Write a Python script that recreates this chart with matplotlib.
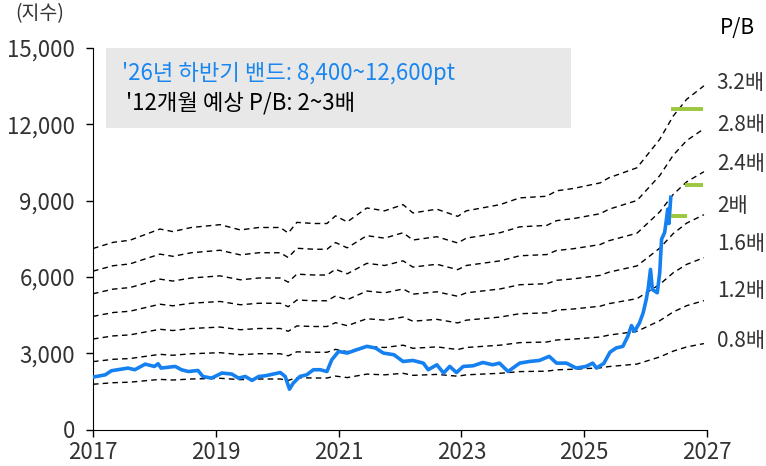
import matplotlib
matplotlib.use('Agg')
import matplotlib.pyplot as plt
import numpy as np

plt.rcParams['font.family'] = ['Noto Sans CJK KR', 'DejaVu Sans']

# KOSPI index
kospi_year = [2017.00, 2017.20, 2017.30, 2017.57, 2017.68, 2017.85, 2018.00, 2018.06, 2018.11, 2018.34,
              2018.44, 2018.55, 2018.71, 2018.79, 2018.93, 2019.10, 2019.26, 2019.37, 2019.48, 2019.59,
              2019.70, 2019.80, 2019.88, 2020.05, 2020.13, 2020.20, 2020.26, 2020.37, 2020.48, 2020.59,
              2020.70, 2020.81, 2020.89, 2021.00, 2021.14, 2021.30, 2021.46, 2021.60, 2021.73, 2021.90,
              2022.05, 2022.21, 2022.38, 2022.46, 2022.60, 2022.71, 2022.81, 2022.92, 2023.03, 2023.19,
              2023.35, 2023.51, 2023.62, 2023.76, 2023.95, 2024.11, 2024.27, 2024.43, 2024.55, 2024.71,
              2024.87, 2025.03, 2025.14, 2025.20, 2025.32, 2025.42, 2025.52, 2025.63, 2025.71, 2025.77,
              2025.82, 2025.90, 2025.96, 2026.01, 2026.04, 2026.08, 2026.11, 2026.19, 2026.23, 2026.26,
              2026.31, 2026.34, 2026.36, 2026.38, 2026.41]
kospi = [2060, 2150, 2310, 2415, 2350, 2570, 2480, 2585, 2415, 2480,
         2350, 2280, 2320, 2085, 2020, 2220, 2180, 2020, 2085, 1930,
         2085, 2110, 2150, 2240, 2085, 1585, 1820, 2085, 2150, 2350,
         2350, 2280, 2745, 3070, 3005, 3140, 3270, 3205, 3005, 2940,
         2675, 2715, 2610, 2350, 2545, 2220, 2480, 2240, 2480, 2505,
         2635, 2545, 2610, 2280, 2610, 2675, 2715, 2875, 2610, 2610,
         2415, 2480, 2610, 2415, 2600, 3040, 3205, 3270, 3665, 4085,
         3860, 4190, 4585, 5110, 5505, 6295, 5505, 5375, 6165, 7480,
         7745, 8270, 8665, 8100, 9130]

# Book value per share (12m forward) behind the P/B bands
bps_year = [2017.00, 2017.33, 2017.60, 2018.09, 2018.30, 2018.60, 2019.07, 2019.40, 2019.70, 2020.05,
            2020.18, 2020.32, 2020.60, 2020.81, 2020.95, 2021.14, 2021.46, 2021.75, 2022.05, 2022.21,
            2022.60, 2022.94, 2023.08, 2023.63, 2023.95, 2024.39, 2024.55, 2024.82, 2025.26, 2025.40,
            2025.86, 2026.23, 2026.45, 2026.67, 2026.95]
bps = [2224, 2300, 2325, 2463, 2432, 2482, 2517, 2452, 2482, 2482,
       2414, 2545, 2531, 2531, 2625, 2551, 2722, 2687, 2763, 2661,
       2707, 2619, 2687, 2763, 2846, 2866, 2933, 2961, 3030, 3092,
       3216, 3565, 3852, 4058, 4223]
pb_multiples = [0.8, 1.2, 1.6, 2.0, 2.4, 2.8, 3.2]
pb_labels = ['0.8배', '1.2배', '1.6배', '2배', '2.4배', '2.8배', '3.2배']
pb_label_y = [3490, 5430, 7280, 8780, 10440, 11980, 13637]

# 2H26 band targets
target_level = [12600, 9600, 8400]
target_start = [2026.41, 2026.64, 2026.41]
target_end = [2026.93, 2026.93, 2026.67]

fig = plt.figure(figsize=(7.66, 4.66), dpi=100)
ax = fig.add_axes([93/766, 1-429.5/466, 614/766, 381.5/466])

bps_arr = np.array(bps)
for m in pb_multiples:
    ax.plot(bps_year, bps_arr*m, color='black', linewidth=1, linestyle=(0, (4, 3)))

ax.plot(kospi_year, kospi, color='#1580f0', linewidth=2.6, solid_joinstyle='round', zorder=3)

for lv, s, e in zip(target_level, target_start, target_end):
    ax.plot([s, e], [lv, lv], color='#9bc83c', linewidth=2.8, solid_capstyle='butt', zorder=4)

for lab, y in zip(pb_labels, pb_label_y):
    ax.text(2027.16, y, lab, fontsize=15, color='#333333', va='center', ha='left', clip_on=False)
ax.text(2027.5, 15780, 'P/B', fontsize=15, color='black', va='center', ha='center', clip_on=False)

# annotation box
ax.add_patch(plt.Rectangle((2017.21, 11870), 7.57, 3130, facecolor='#e8e8e8', edgecolor='none', zorder=1))
ax.text(2017.48, 14000, "'26년 하반기 밴드: 8,400~12,600pt", fontsize=16, color='#1a87f0', va='center', ha='left', zorder=5)
ax.text(2017.54, 12820, "'12개월 예상 P/B: 2~3배", fontsize=16, color='black', va='center', ha='left', zorder=5)

ax.set_xlim(2017, 2027)
ax.set_ylim(0, 15000)
ax.set_xticks([2017, 2019, 2021, 2023, 2025, 2027])
ax.set_yticks([0, 3000, 6000, 9000, 12000, 15000])
ax.set_yticklabels(['0', '3,000', '6,000', '9,000', '12,000', '15,000'])
ax.tick_params(axis='both', labelsize=16, labelcolor='#333333', length=5, width=1, direction='out')
ax.tick_params(axis='y', pad=8)
ax.tick_params(axis='x', pad=3)
for sp in ['top', 'right']:
    ax.spines[sp].set_visible(False)
ax.text(-0.127, 1.09, '(지수)', transform=ax.transAxes, fontsize=14, color='#333333', va='center', ha='left')

fig.savefig('out.png', dpi=100)
